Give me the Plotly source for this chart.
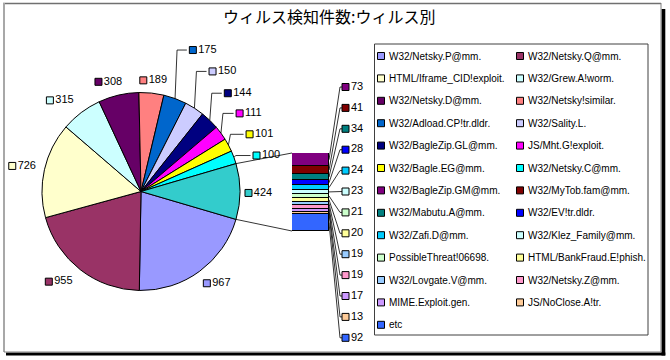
import math
import plotly.graph_objects as go

# ---------------- data ----------------
title_text = "ウィルス検知件数:ウィルス別"

pie_names = ["W32/Netsky.P@mm.", "W32/Netsky.Q@mm.", "HTML/Iframe_CID!exploit.", "W32/Grew.A!worm.",
             "W32/Netsky.D@mm.", "W32/Netsky!similar.", "W32/Adload.CP!tr.dldr.", "W32/Sality.L.",
             "W32/BagleZip.GL@mm.", "JS/Mht.G!exploit.", "W32/Bagle.EG@mm.", "W32/Netsky.C@mm."]
pie_values = [967, 955, 726, 315, 308, 189, 175, 150, 144, 111, 101, 100]
pie_colors = ["#9999FF", "#993366", "#FFFFCC", "#CCFFFF", "#660066", "#FF8080", "#0066CC", "#CCCCFF",
              "#000080", "#FF00FF", "#FFFF00", "#00FFFF"]
other_color = "#33CCCC"

bar_names = ["W32/BagleZip.GM@mm.", "W32/MyTob.fam@mm.", "W32/Mabutu.A@mm.", "W32/EV!tr.dldr.",
             "W32/Zafi.D@mm.", "W32/Klez_Family@mm.", "PossibleThreat!06698.", "HTML/BankFraud.E!phish.",
             "W32/Lovgate.V@mm.", "W32/Netsky.Z@mm.", "MIME.Exploit.gen.", "JS/NoClose.A!tr.", "etc"]
bar_values = [73, 41, 34, 28, 24, 23, 21, 20, 19, 19, 17, 13, 92]
bar_colors = ["#800080", "#800000", "#008080", "#0000FF", "#00CCFF", "#CCFFFF", "#CCFFCC", "#FFFF99",
              "#99CCFF", "#FF99CC", "#CC99FF", "#FFCC99", "#3366FF"]

# ---------------- layout / style constants ----------------
W, H = 670, 360
CX, CY, R = 141, 191.5, 99            # pie centre / radius (px)
BX0, BX1, BY0, BY1 = 292, 329, 153, 231  # bar box (px)
# label placement style (distance from centre, angular nudge in degrees)
label_dist = [120, 121, 120, 121, 114, 112, 155, 146, 139, 135, 133, 132, 119]
label_shift = [3.8, -4, 0.4, 4, 2.7, -1, -4, -2, -1, -0.8, -2.5, -4.4, -0.7]
BAR_LABEL_TOP, BAR_LABEL_STEP, BAR_LABEL_X = 87, 20.9, 345.5
FONT = "Liberation Sans, Arial, sans-serif"

other_total = sum(bar_values)
pv = pie_values + [other_total]
pc = pie_colors + [other_color]
total = sum(pv)
other_deg = 360.0 * other_total / total
rotation = 90 + other_deg / 2

fig = go.Figure()

line_x, line_y = [], []
lab_x, lab_y, lab_t, lab_c = [], [], [], []

cum = 0.0
for i, v in enumerate(pv):
    c = rotation + 360.0 * (cum + v / 2) / total
    cum += v
    m0 = 90 - c
    m = math.radians(m0 + label_shift[i])
    d = label_dist[i]
    bx = CX + d * math.cos(m)
    by = CY - d * math.sin(m)
    sx = bx - 11.5
    lab_x.append(sx); lab_y.append(by); lab_t.append(str(v)); lab_c.append(pc[i])
    if d - R > 25:
        ex = CX + R * math.cos(math.radians(m0))
        ey = CY - R * math.sin(math.radians(m0))
        line_x += [ex, ex + 2, sx - 6, None]
        line_y += [ey, by, by, None]

# connectors pie -> bar
for sgn, by in ((1, BY0), (-1, BY1)):
    a = math.radians(sgn * other_deg / 2)
    line_x += [CX + R * math.cos(a), BX0, None]
    line_y += [CY - R * math.sin(a), by, None]

# bar labels + leader lines
scale = (BY1 - BY0) / other_total
cum = 0.0
for i, v in enumerate(bar_values):
    segc = BY0 + (cum + v / 2) * scale
    cum += v
    ly = BAR_LABEL_TOP + i * BAR_LABEL_STEP
    line_x += [BX1, BAR_LABEL_X - 5.5, BAR_LABEL_X - 3.5, None]
    line_y += [segc, ly, ly, None]
    lab_x.append(BAR_LABEL_X); lab_y.append(ly); lab_t.append(str(v)); lab_c.append(bar_colors[i])

fig.add_trace(go.Scatter(x=line_x, y=line_y, mode="lines", line=dict(color="#000000", width=0.8),
                         hoverinfo="skip", showlegend=False, xaxis="x", yaxis="y"))
fig.add_trace(go.Scatter(x=lab_x, y=lab_y, mode="markers+text", text=lab_t, textposition="middle right",
                         textfont=dict(family=FONT, size=11, color="#000000"),
                         marker=dict(symbol="square", size=7, color=lab_c, line=dict(color="#000000", width=1)),
                         hoverinfo="skip", showlegend=False, xaxis="x", yaxis="y"))

# pie -----------------------------------------------------------------------
fig.add_trace(go.Pie(values=pv, labels=pie_names + ["other"], sort=False, direction="clockwise",
                     rotation=rotation, textinfo="none", showlegend=False, hoverinfo="label+value",
                     marker=dict(colors=pc, line=dict(color="#000000", width=1)),
                     domain=dict(x=[(CX - R) / W, (CX + R) / W], y=[1 - (CY + R) / H, 1 - (CY - R) / H])))

# stacked bar ---------------------------------------------------------------
for i in reversed(range(len(bar_values))):
    fig.add_trace(go.Bar(x=[0], y=[bar_values[i]], width=1, name=bar_names[i],
                         marker=dict(color=bar_colors[i], line=dict(color="#000000", width=1)),
                         showlegend=False, xaxis="x2", yaxis="y2"))

# frame, title, legend ------------------------------------------------------
shapes = [
    dict(type="rect", x0=661.5, x1=665.3, y0=9, y1=355.6, fillcolor="#000000", line=dict(width=0)),
    dict(type="rect", x0=6, x1=665.3, y0=352.5, y1=355.6, fillcolor="#000000", line=dict(width=0)),
    dict(type="line", x0=3, x1=661, y0=3.5, y1=3.5, line=dict(color="#707070", width=1.5)),
    dict(type="line", x0=4, x1=4, y0=3, y1=352, line=dict(color="#A8A8A8", width=2)),
    dict(type="line", x0=661, x1=661, y0=3, y1=352, line=dict(color="#808080", width=1)),
    dict(type="line", x0=4, x1=661, y0=352, y1=352, line=dict(color="#808080", width=1)),
    dict(type="rect", x0=374.5, x1=648, y0=44, y1=335, line=dict(color="#404040", width=1)),
]
annotations = [dict(text=title_text, x=329, y=15.5, xref="x", yref="y", showarrow=False,
                    font=dict(family="Noto Sans CJK JP", size=16, color="#000000"))]

legend_names = pie_names + bar_names
legend_colors = pie_colors + bar_colors
for k, (nm, col) in enumerate(zip(legend_names, legend_colors)):
    row, colno = divmod(k, 2)
    yy = 56 + row * 22.4
    xs = 381 if colno == 0 else 520
    shapes.append(dict(type="rect", x0=xs - 3.5, x1=xs + 3.5, y0=yy - 3.5, y1=yy + 3.5,
                       fillcolor=col, line=dict(color="#000000", width=1)))
    annotations.append(dict(text=nm, x=xs + 6, y=yy, xref="x", yref="y", xanchor="left", yanchor="middle",
                            showarrow=False, font=dict(family=FONT, size=10, color="#000000")))
for s in shapes:
    s.update(xref="x", yref="y", layer="above")

fig.update_layout(
    width=W, height=H, margin=dict(l=0, r=0, t=0, b=0, pad=0),
    paper_bgcolor="#FFFFFF", plot_bgcolor="rgba(0,0,0,0)",
    barmode="stack", bargap=0, showlegend=False,
    xaxis=dict(domain=[0, 1], range=[0, W], visible=False, fixedrange=True),
    yaxis=dict(domain=[0, 1], range=[H, 0], visible=False, fixedrange=True),
    xaxis2=dict(domain=[BX0 / W, BX1 / W], range=[-0.5, 0.5], visible=False, anchor="y2", fixedrange=True),
    yaxis2=dict(domain=[1 - BY1 / H, 1 - BY0 / H], range=[0, other_total], visible=False, anchor="x2",
                fixedrange=True),
    shapes=shapes, annotations=annotations,
)

fig.write_html("out.html", config={"displayModeBar": False},
               post_script="document.body.style.margin='0';document.body.style.padding='0';"
                           "document.body.style.overflow='hidden';")
